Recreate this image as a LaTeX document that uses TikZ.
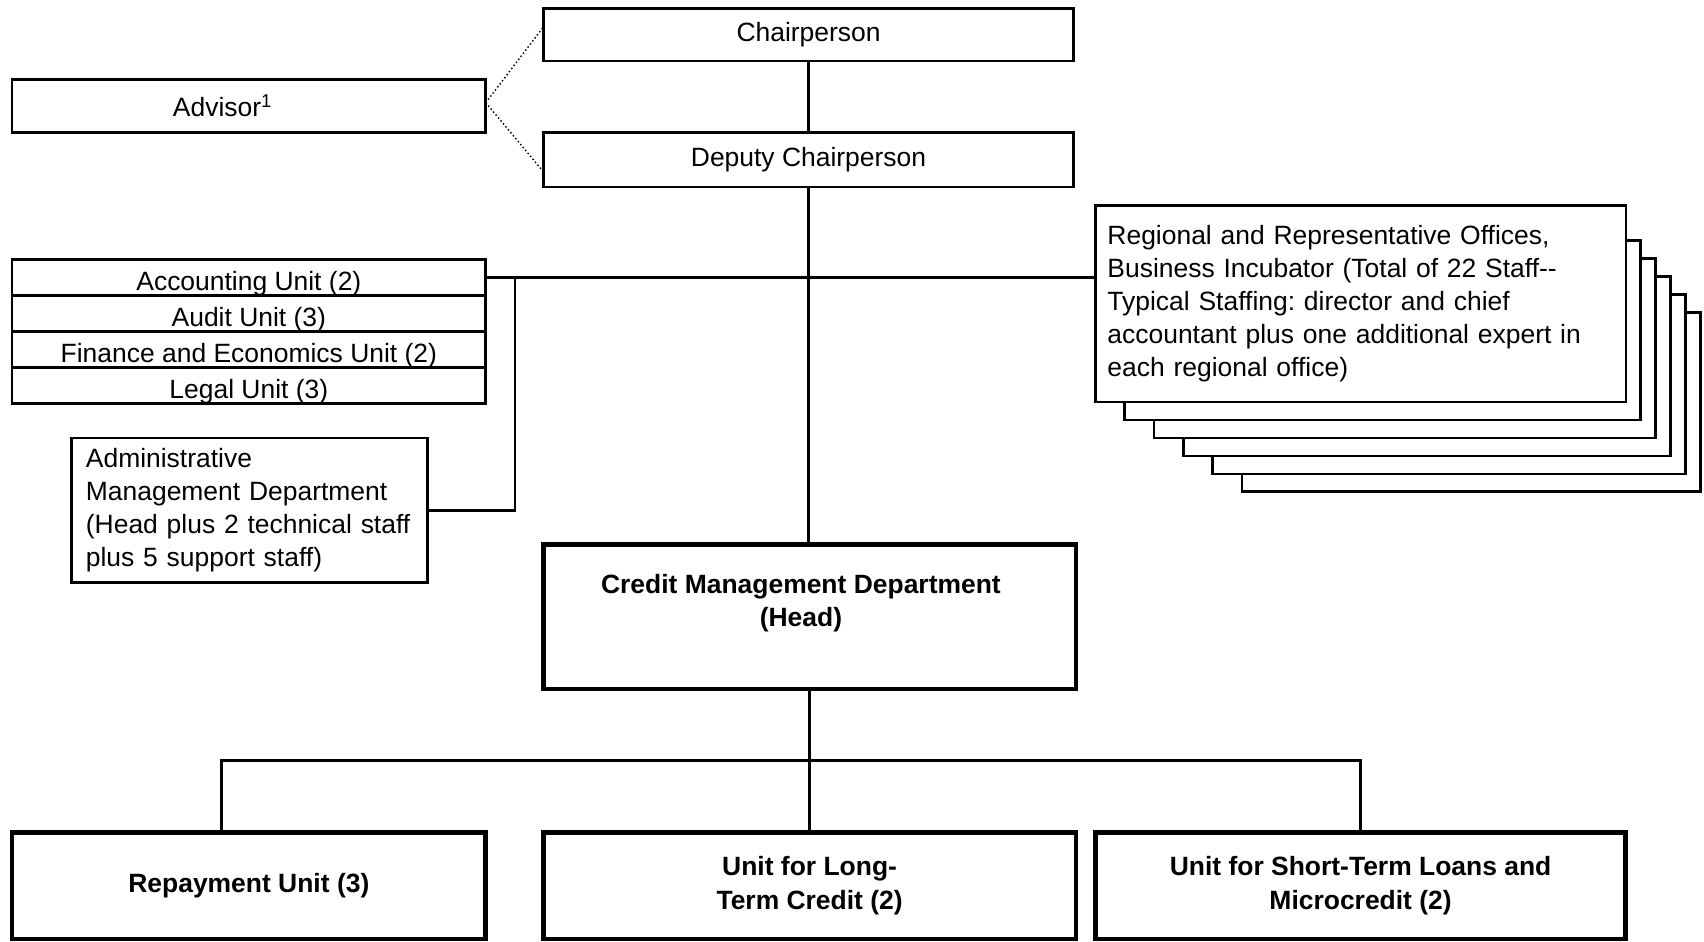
\documentclass[tikz,border=0pt]{standalone}
\usepackage{fontspec}
\setmainfont{Liberation Sans}
\usepackage{tikz}
\usetikzlibrary{calc}
\usetikzlibrary{positioning}
\frenchspacing

% One unit of the picture grid
\newdimen\boxunit
\boxunit=0.452pt

\tikzset{
    % Text used throughout the chart
    chart font/.style={font=\fontsize{11pt}{13.8pt}\selectfont},
%
    % Size of a box given in grid units
    box size/.style 2 args={minimum width=#1*\boxunit, minimum height=#2*\boxunit},
%
    % Ordinary outlined post
    post box/.style={
        draw, line width=1.1pt, fill=white, chart font,
        anchor=north west, align=center, inner sep=0pt, outer sep=0pt},
%
    % Heavier outline for the credit side
    credit box/.style={
        post box, line width=1.9pt,
        font=\fontsize{11pt}{13.8pt}\selectfont\bfseries},
%
    % One row of the unit table, text cut off at the row line
    unit row/.style={
        post box, box size={436}{33},
        path picture={\node [chart font, anchor=base, inner sep=0pt]
            at ([yshift=2pt]path picture bounding box.south) {#1};}},
%
    % The pile of regional offices behind the front sheet
    office sheet/.style={draw, line width=1.1pt, fill=white},
%
    % Reporting lines
    tie line/.style={line width=1.1pt},
    advice line/.style={densely dotted, line width=0.6pt}}

\begin{document}
\begin{tikzpicture}[x=1\boxunit, y=-1\boxunit]

\useasboundingbox (0,0) rectangle (1568,866);
\path [fill=white] (0,0) rectangle (1568,866);

% Top of the chart

\node [post box, box size={488}{48}] (chair) at (500,8) {Chairperson};
\node [post box, box size={488}{50}] (deputy) at (500,122) {Deputy Chairperson};
\node [post box, box size={436}{49}] (advisor) at (11,73)
    {Advisor\textsuperscript{1}\hspace*{48\boxunit}};

% Units and departments on the left

\node [unit row={Accounting Unit (2)}] (acct) at (11,239) {};
\node [unit row={Audit Unit (3)}] (audit) at (acct.south west) {};
\node [unit row={Finance and Economics Unit (2)}] (finance) at (audit.south west) {};
\node [unit row={Legal Unit (3)}] (legal) at (finance.south west) {};

\node [post box, box size={327}{133}, text width=136.1pt, inner xsep=5.9pt,
    align=left] (admin) at (66,403)
    {
        Administrative\\
        Management Department\\
        (Head plus 2 technical staff\\
        plus 5 support staff)
    };

% Regional offices

\foreach \i in {5,...,1}
    \draw [office sheet] (1008+27*\i, 205+16.5*\i) rectangle (1496+13.7*\i, 370+16.5*\i);

\node [post box, box size={488}{181}, text width=210.6pt, inner xsep=5pt,
    align=left] (offices) at (1008,189)
    {
        Regional and Representative Offices,\\
        Business Incubator (Total of 22 Staff-{}-\\
        Typical Staffing: director and chief\\
        accountant plus one additional expert in\\
        each regional office)
    };

% Credit side

\node [credit box, box size={490}{133}] (credit) at (500,501)
    {\mbox{Credit Management Department\hspace*{16\boxunit}}\\
     \mbox{(Head)\hspace*{16\boxunit}}\\~};

\node [credit box, box size={436}{98}] (repay) at (11,766) {Repayment Unit (3)};
\node [credit box, box size={490}{98}] (longterm) at (500,766)
    {Unit for Long-\\Term Credit (2)};
\node [credit box, box size={488}{98}] (shortterm) at (1008,766)
    {Unit for Short-Term Loans and\\Microcredit (2)};

% Reporting lines

\draw [advice line] ($(advisor.east)+(0,-3)$) --
    ($(chair.north west)!0.35!(chair.south west)$);
\draw [advice line] ($(advisor.east)+(0,-3)$) --
    ($(deputy.north west)!0.72!(deputy.south west)$);

\draw [tie line] (chair) -- (deputy);
\draw [tie line] (deputy.south) -- (deputy.south |- credit.north);
\draw [tie line] (acct.east) -- (acct.east -| offices.west);

\coordinate (admin join) at ($(acct.east)+(27,0)$);
\draw [tie line] (admin.east) -| (admin join);

\coordinate (unit split) at ($(credit.south)+(0,66)$);
\coordinate (repay join) at ($(repay.north)+(-25,0)$);
\draw [tie line] (credit.south) -- (unit split);
\draw [tie line] (repay join) |- (unit split) -| (shortterm.north);
\draw [tie line] (unit split) -- (longterm.north);

\end{tikzpicture}
\end{document}
